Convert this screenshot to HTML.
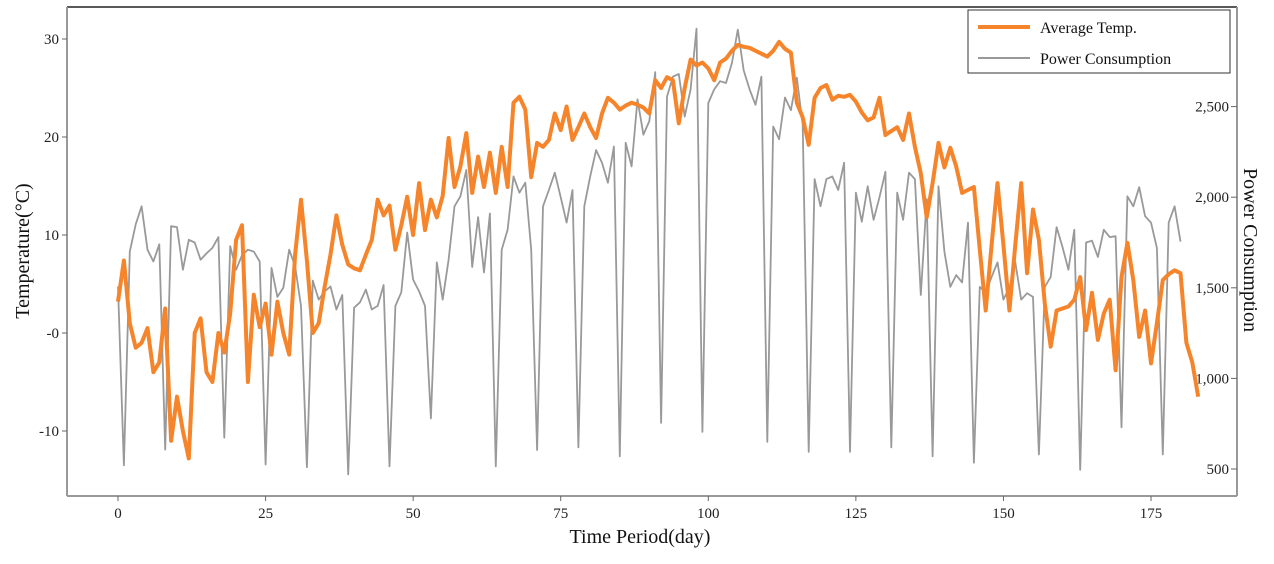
<!DOCTYPE html>
<html><head><meta charset="utf-8"><style>
html,body{margin:0;padding:0;background:#fff;}
svg{display:block;font-family:"Liberation Serif",serif;}
</style></head><body>
<svg id="chart" width="1274" height="564" viewBox="0 0 1274 564">
<g id="axes"></g>
<g id="series"></g>
<g>
<rect x="968" y="10" width="262" height="63" fill="#fff" stroke="#333" stroke-width="1"/>
<line x1="978" y1="27" x2="1030" y2="27" stroke="#f5842a" stroke-width="4"/>
<text x="1040" y="33" font-size="16" fill="#111">Average  Temp.</text>
<line x1="978" y1="58" x2="1030" y2="58" stroke="#999" stroke-width="2"/>
<text x="1040" y="64" font-size="16" fill="#111">Power Consumption</text>
</g>
</svg>
<script>
const xTicks=[0,25,50,75,100,125,150,175];
const tempTicks=[30,20,10,0,-10];
const tempTickLabels=["30","20","10","-0","-10"];
const powerTicks=[2500,2000,1500,1000,500];
const powerTickLabels=["2,500","2,000","1,500","1,000","500"];
const temperature=[3.2,7.4,1,-1.5,-1,0.5,-4,-3,2.5,-11,-6.5,-10,-12.8,0,1.5,-4,-5,0,-2,2,9.5,11,-5,3.9,0.6,3,-2.2,3.2,0,-2.2,8,13.6,7.4,0,1,4.7,8,12,9,7,6.6,6.4,8,9.5,13.6,12,13,8.5,11,13.9,10,15.3,10.5,13.6,11.8,14,19.9,14.9,17,20.4,14.3,18,14.9,18.4,14.3,19,14.9,23.5,24.1,22.8,15.9,19.4,19,19.7,22.4,20.7,23.1,19.7,21,22.4,21,19.9,22.4,24,23.5,22.8,23.2,23.5,23.3,23,22.4,25.8,25,26.1,25.8,21.4,25,27.9,27.3,27.6,27,25.8,27.6,28,28.8,29.4,29.2,29.1,28.8,28.5,28.2,28.8,29.7,29,28.6,23.5,22,19.2,24,25,25.3,23.8,24.2,24.1,24.3,23.6,22.5,21.7,22,24,20.2,20.6,21,19.7,22.4,19,16.3,11.8,15.3,19.4,16.9,18.9,17,14.3,14.6,14.9,8.5,2.3,9,15.3,9,2.3,9,15.3,6.1,12.6,9.5,3,-1.4,2.3,2.5,2.7,3.4,5.7,0.3,4.1,-0.7,2,3.4,-3.8,5.7,9.2,5.4,-0.4,2.3,-3.1,1,5.4,6,6.4,6.1,-1,-3,-6.5];
const power=[1507,520,1700,1850,1950,1710,1645,1740,607,1840,1835,1600,1765,1750,1655,1690,1720,1780,673,1730,1600,1680,1710,1700,1645,525,1610,1450,1500,1710,1620,1400,510,1540,1435,1480,1507,1380,1460,470,1390,1420,1490,1380,1400,1515,515,1400,1475,1805,1545,1480,1400,780,1640,1435,1655,1950,2005,2150,1615,1890,1585,1910,515,1710,1820,2115,2025,2080,1710,605,1950,2040,2135,2000,1860,2040,620,1950,2115,2260,2190,2080,2280,570,2300,2170,2540,2345,2420,2690,755,2555,2665,2680,2445,2595,2930,705,2520,2595,2640,2630,2740,2925,2700,2595,2510,2665,650,2390,2320,2550,2480,2660,2400,595,2100,1950,2100,2115,2040,2190,595,2025,1865,2060,1875,2000,2140,620,2025,1875,2135,2100,1460,1990,570,2060,1700,1505,1570,1530,1860,535,1505,1475,1560,1640,1435,1500,1640,1435,1470,1450,580,1505,1560,1835,1725,1600,1820,495,1750,1760,1670,1820,1780,1785,730,2005,1950,2055,1895,1860,1720,580,1860,1950,1755];

const NS="http://www.w3.org/2000/svg";
const L=67,R=1237,T=7,B=496;
function xScale(d){return 118+d*5.903;}
function yTemp(v){return 333-v*9.8;}
function yPow(v){return 469-(v-500)*0.1812;}
function mk(tag,attrs,parent){const e=document.createElementNS(NS,tag);for(const k in attrs)e.setAttribute(k,attrs[k]);parent.appendChild(e);return e;}
const axes=document.getElementById('axes');
const series=document.getElementById('series');

let e;
e=mk('line',{x1:L,y1:T,x2:R,y2:T,stroke:'#222','stroke-width':1.5},axes);


e=mk('line',{x1:L,y1:T,x2:L,y2:B,stroke:'#999','stroke-width':2},axes);


e=mk('line',{x1:R,y1:T,x2:R,y2:B,stroke:'#999','stroke-width':2},axes);


e=mk('line',{x1:L,y1:B,x2:R,y2:B,stroke:'#999','stroke-width':2},axes);



xTicks.forEach(t=>{
  const x=xScale(t);
  e=mk('line',{x1:x,y1:B,x2:x,y2:B+5,stroke:'#666'},axes);
  
  
  e=mk('text',{x:x,y:B+22,'font-size':15,'text-anchor':'middle',fill:'#222'},axes);
  e.textContent=String(t);
  
  
});
tempTicks.forEach((t,i)=>{
  const y=yTemp(t);
  e=mk('line',{x1:L-5,y1:y,x2:L,y2:y,stroke:'#666'},axes);
  
  
  e=mk('text',{x:L-8,y:y+5,'font-size':15,'text-anchor':'end',fill:'#222'},axes);
  e.textContent=tempTickLabels[i];
  
  
});
powerTicks.forEach((t,i)=>{
  const y=yPow(t);
  e=mk('line',{x1:R-6,y1:y,x2:R,y2:y,stroke:'#666'},axes);
  
  
  e=mk('text',{x:R-8,y:y+5,'font-size':15,'text-anchor':'end',fill:'#222'},axes);
  e.textContent=powerTickLabels[i];
  
  
});
e=mk('text',{x:640,y:543,'font-size':20,'text-anchor':'middle',fill:'#111'},axes);
e.textContent='Time Period(day)';


e=mk('text',{x:0,y:0,'font-size':20,'text-anchor':'middle',fill:'#111',transform:'translate(29,251) rotate(-90)'},axes);
e.textContent='Temperature(°C)';


e=mk('text',{x:0,y:0,'font-size':20,'text-anchor':'middle',fill:'#111',transform:'translate(1244,250) rotate(90)'},axes);
e.textContent='Power Consumption';



const pPts=power.map((v,i)=>xScale(i).toFixed(1)+','+yPow(v).toFixed(1)).join(' ');
e=mk('polyline',{points:pPts,fill:'none',stroke:'#999','stroke-width':1.8,'stroke-linejoin':'round'},series);


const tPts=temperature.map((v,i)=>xScale(i).toFixed(1)+','+yTemp(v).toFixed(1)).join(' ');
e=mk('polyline',{points:tPts,fill:'none',stroke:'#f5842a','stroke-width':4,'stroke-linejoin':'round'},series);


</script>
</body></html>
